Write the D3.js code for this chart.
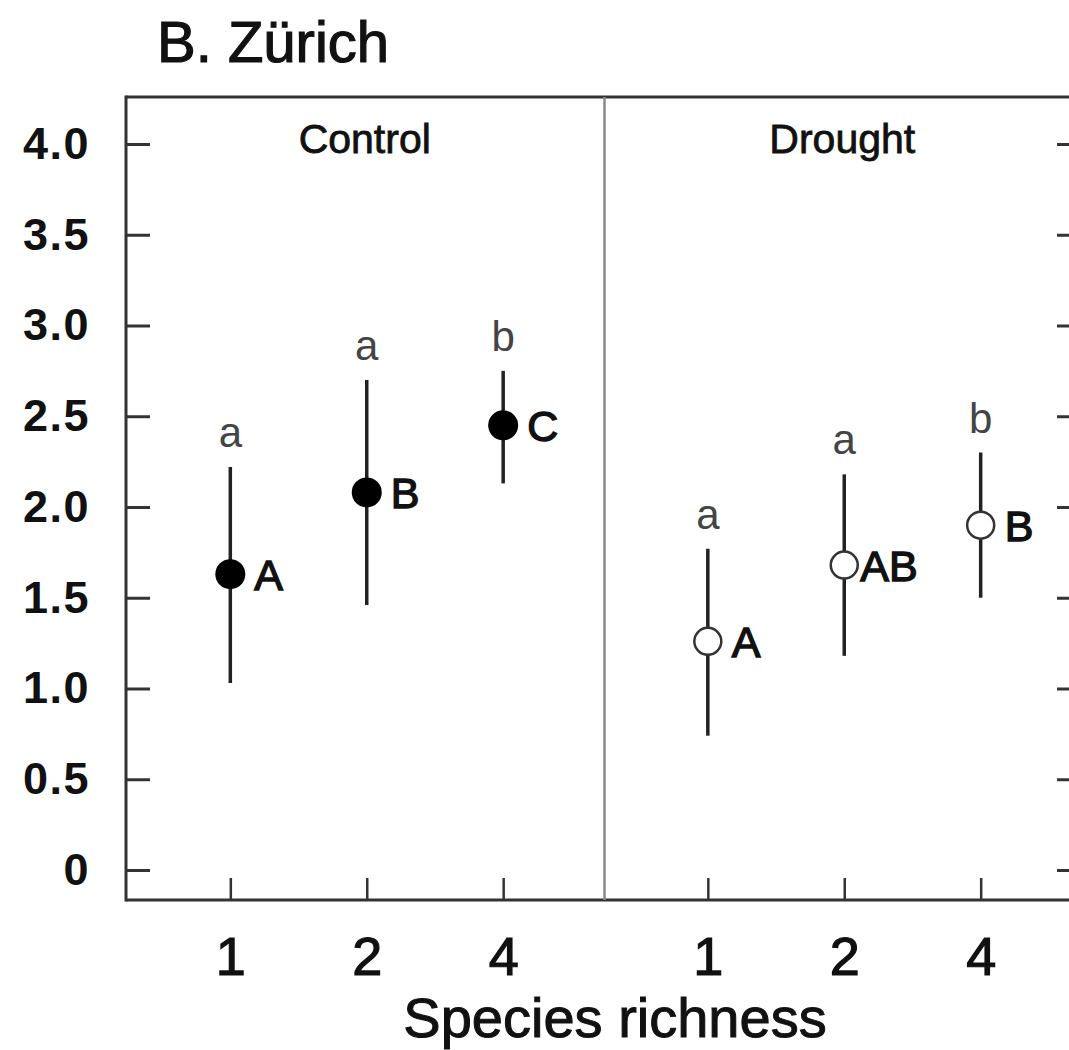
<!DOCTYPE html>
<html>
<head>
<meta charset="utf-8">
<script src="https://cdn.jsdelivr.net/npm/d3@7"></script>
<style>
  html, body { margin: 0; padding: 0; background: #fff; }
  svg { display: block; font-family: "Liberation Sans", Arial, sans-serif; }
</style>
</head>
<body>
<svg id="chart" width="1069" height="1050"></svg>
<script>
// ---- data ----
const panels = ["Control", "Drought"];
const richness = ["1", "2", "4"];
const controlMean  = [1.63, 2.08, 2.45];
const controlLow   = [1.03, 1.46, 2.13];
const controlHigh  = [2.22, 2.70, 2.75];
const droughtMean  = [1.26, 1.68, 1.90];
const droughtLow   = [0.74, 1.18, 1.50];
const droughtHigh  = [1.77, 2.18, 2.30];
const controlLower = ["a", "a", "b"];
const controlUpper = ["A", "B", "C"];
const droughtLower = ["a", "a", "b"];
const droughtUpper = ["A", "AB", "B"];
const yTicks = [0, 0.5, 1.0, 1.5, 2.0, 2.5, 3.0, 3.5, 4.0];
const yTickLabels = ["0", "0.5", "1.0", "1.5", "2.0", "2.5", "3.0", "3.5", "4.0"];
const titleText = "B. Zürich";
const xTitle = "Species richness";

// ---- layout ----
const svg = d3.select("#chart");
const mLeft = 126, mRight = 1081, mTop = 97, mBottom = 900;
const ink = "#111";

const y = d3.scaleLinear().domain([0, 4]).range([870, 144]);
const panelX = d3.scaleBand().domain(panels).range([mLeft, mRight]);

const series = {
  Control: { mean: controlMean, low: controlLow, high: controlHigh, lower: controlLower, upper: controlUpper, fill: "#000" },
  Drought: { mean: droughtMean, low: droughtLow, high: droughtHigh, lower: droughtLower, upper: droughtUpper, fill: "#fff" }
};

// title
svg.append("text").attr("x", 157).attr("y", 62)
  .attr("font-size", 58).attr("fill", ink).attr("stroke", ink).attr("stroke-width", 1.2)
  .text(titleText);

// frame lines
svg.append("line").attr("x1", mLeft).attr("x2", mRight).attr("y1", mTop).attr("y2", mTop)
  .attr("stroke", "#333").attr("stroke-width", 3);
svg.append("line").attr("x1", mLeft).attr("x2", mRight).attr("y1", mBottom).attr("y2", mBottom)
  .attr("stroke", "#333").attr("stroke-width", 3);
svg.append("line").attr("x1", mLeft).attr("x2", mLeft).attr("y1", mTop - 1.5).attr("y2", mBottom + 1.5)
  .attr("stroke", "#333").attr("stroke-width", 3);
// divider
svg.append("line").attr("x1", panelX("Drought") + 1).attr("x2", panelX("Drought") + 1)
  .attr("y1", mTop).attr("y2", mBottom).attr("stroke", "#888").attr("stroke-width", 2.5);

// y axis left
const yAxisL = d3.axisLeft(y).tickValues(yTicks)
  .tickFormat((d, i) => yTickLabels[i]).tickSize(-24).tickPadding(36);
const gyl = svg.append("g").attr("transform", `translate(${mLeft},0)`).call(yAxisL);
gyl.select(".domain").remove();
gyl.selectAll(".tick line").attr("stroke", "#333").attr("stroke-width", 3);
gyl.selectAll(".tick text").attr("font-size", 45).attr("font-weight", "bold")
  .attr("letter-spacing", 1.5)
  .attr("fill", ink).attr("font-family", "Liberation Sans, Arial, sans-serif");

// y axis right (ticks only)
const yAxisR = d3.axisRight(y).tickValues(yTicks).tickFormat("").tickSize(-24);
const gyr = svg.append("g").attr("transform", `translate(${mRight},0)`).call(yAxisR);
gyr.select(".domain").remove();
gyr.selectAll(".tick line").attr("stroke", "#333").attr("stroke-width", 3);

// panels
panels.forEach(p => {
  const x0 = panelX(p), w = panelX.bandwidth();
  const x = d3.scalePoint().domain(richness).range([x0 + 2, x0 + w + 2]).padding(0.75);
  const s = series[p];
  const data = richness.map((r, i) => ({ r, mean: s.mean[i], low: s.low[i], high: s.high[i], lower: s.lower[i], upper: s.upper[i] }));

  // x axis
  const xAxis = d3.axisBottom(x).tickSize(-22).tickPadding(37);
  const gx = svg.append("g").attr("transform", `translate(0,${mBottom})`).call(xAxis);
  gx.select(".domain").remove();
  gx.selectAll(".tick line").attr("stroke", "#333").attr("stroke-width", 2.5);
  gx.selectAll(".tick text").attr("font-size", 54).attr("fill", ink)
    .attr("stroke", ink).attr("stroke-width", 1.2)
    .attr("font-family", "Liberation Sans, Arial, sans-serif");

  // panel label
  svg.append("text").attr("x", x0 + w / 2).attr("y", 153)
    .attr("text-anchor", "middle").attr("font-size", 41).attr("fill", ink)
    .attr("stroke", ink).attr("stroke-width", 0.8).text(p);

  const g = svg.append("g");
  // error bars
  g.selectAll("line.err").data(data).join("line").attr("class", "err")
    .attr("x1", d => x(d.r)).attr("x2", d => x(d.r))
    .attr("y1", d => y(d.low)).attr("y2", d => y(d.high))
    .attr("stroke", "#222").attr("stroke-width", 3.5);
  // points
  g.selectAll("circle").data(data).join("circle")
    .attr("cx", d => x(d.r)).attr("cy", d => y(d.mean))
    .attr("r", p === "Control" ? 15 : 13.5)
    .attr("fill", s.fill).attr("stroke", p === "Control" ? "#000" : "#333")
    .attr("stroke-width", p === "Control" ? 0 : 2.5);
  // lowercase letters above
  g.selectAll("text.low").data(data).join("text").attr("class", "low")
    .attr("x", d => x(d.r)).attr("y", d => y(d.high) - 20)
    .attr("text-anchor", "middle").attr("font-size", 42).attr("fill", "#444")
    .text(d => d.lower);
  // uppercase letters to the right
  g.selectAll("text.up").data(data).join("text").attr("class", "up")
    .attr("x", d => x(d.r) + (d.upper.length > 1 ? 16 : 24)).attr("y", d => y(d.mean))
    .attr("dy", "0.36em").attr("font-size", 43).attr("fill", ink)
    .attr("stroke", ink).attr("stroke-width", 1.4)
    .text(d => d.upper);
});

// x title
svg.append("text").attr("x", 615).attr("y", 1037).attr("text-anchor", "middle")
  .attr("font-size", 56).attr("fill", ink).attr("stroke", ink).attr("stroke-width", 1)
  .text(xTitle);
</script>
</body>
</html>
